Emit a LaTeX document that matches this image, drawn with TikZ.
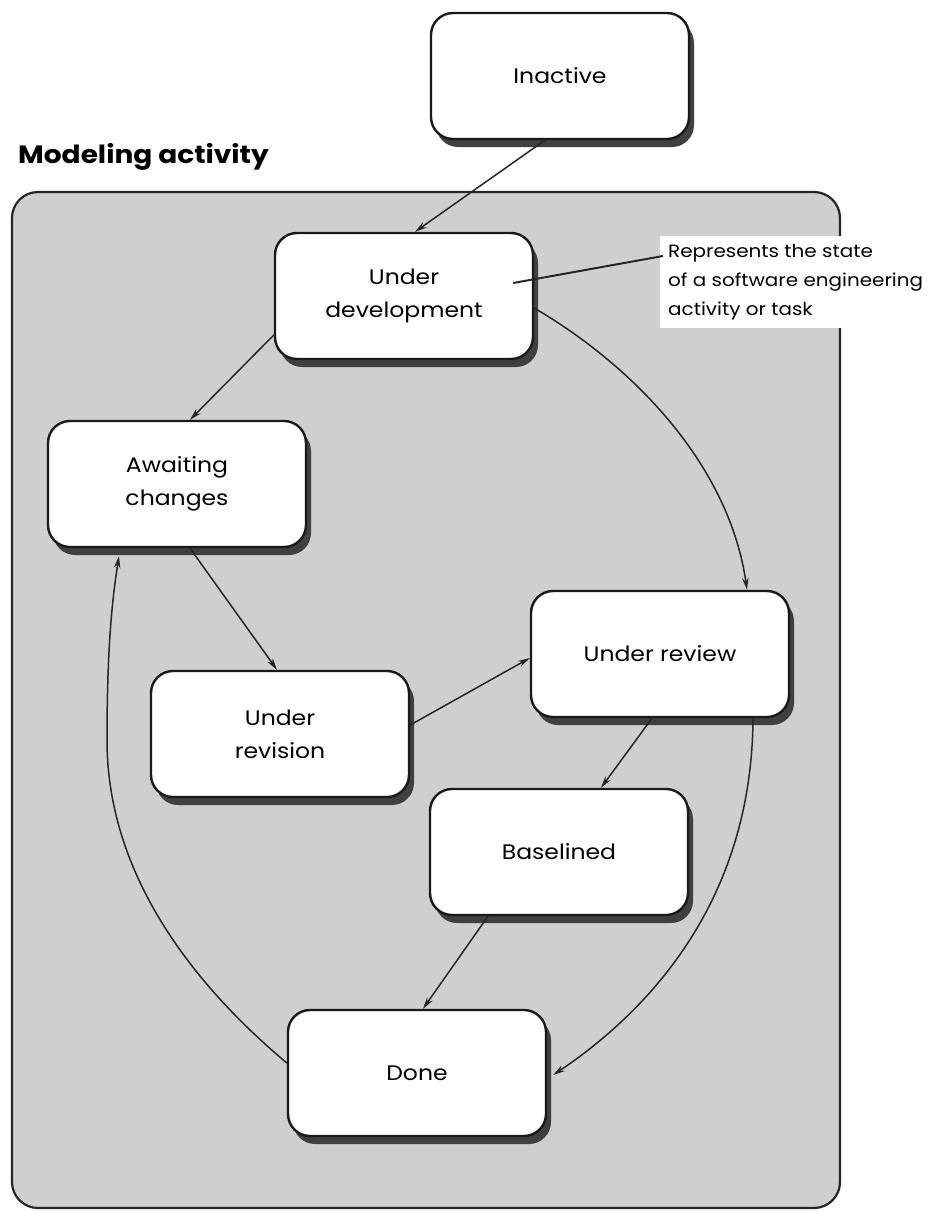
\documentclass[tikz,border=0pt]{standalone}
\usepackage{fontspec}
\setmainfont{Poppins}[FakeStretch=1.12]
\usetikzlibrary{shadows,arrows.meta,calc}
\begin{document}
\begin{tikzpicture}[x=1pt,y=-1pt,
  state/.style={draw=black!90, line width=2.4pt, fill=white, rounded corners=22pt,
    minimum width=258pt, minimum height=126pt, align=center,
    font=\fontsize{21}{33}\selectfont,
    drop shadow={shadow xshift=5pt, shadow yshift=-8pt, fill=black!75, opacity=1}},
  arr/.style={draw=black!85, line width=1.5pt, -{Stealth[length=12pt,width=6.5pt]}},
]
\fill[white] (0,0) rectangle (932,1211);
\useasboundingbox (0,0) rectangle (932,1211);
\node[anchor=base west, inner sep=0pt, font=\fontsize{25}{29}\selectfont\bfseries] (title) at (18,163) {Modeling activity};
\node[draw=black!85, line width=2.2pt, fill=black!19, rounded corners=26pt,
  minimum width=828pt, minimum height=1016pt, inner sep=0pt] (container) at (426,700) {};

\node[state] (inactive) at (560,76) {Inactive};
\node[state] (ud) at (404,296) {Under\\development};
\node[state] (ac) at (177,484) {Awaiting\\changes};
\node[state] (rev) at (280,734) {Under\\revision};
\node[state] (rv) at (660,654) {Under review};
\node[state] (bl) at (559,852) {Baselined};
\node[state] (done) at (417,1073) {Done};

\node[fill=white, anchor=north west, align=left, inner xsep=8pt, inner ysep=8pt,
  font=\fontsize{17.8}{29}\selectfont] (note) at (660,236)
  {Represents the state\\of a software engineering\\activity or task};
\draw[line width=2pt, black!85] ($(ud.east)+(-21,-13)$) -- ($(note.north west)+(3,20)$);

\draw[arr] ($(inactive.south)+(-15,0)$) -- ($(ud.north)+(11,0)$);
\draw[arr] ($(ud.west)+(0,39)$) -- ($(ac.north)+(13,0)$);
\draw[arr] ($(ud.east)+(0,12)$) .. controls (640,370) and (730,470) .. ($(rv.north)+(87,0)$);
\draw[arr] ($(ac.south)+(13,0)$) -- ($(rev.north)+(-3,0)$);
\draw[arr] ($(rev.east)+(0,-9)$) -- ($(rv.west)+(0,4)$);
\draw[arr] ($(rv.south)+(-8,0)$) -- ($(bl.north)+(42,0)$);
\draw[arr] ($(bl.south)+(-71,0)$) -- ($(done.north)+(6,0)$);
\draw[arr] ($(rv.south)+(93,0)$) .. controls (752,900) and (650,1010) .. ($(done.east)+(6,2)$);
\draw[arr] ($(done.west)+(0,-10)$) .. controls (200,990) and (107,880) .. (107,740)
  .. controls (107,650) and (112,600) .. ($(ac.south)+(-58,8)$);
\end{tikzpicture}
\end{document}
